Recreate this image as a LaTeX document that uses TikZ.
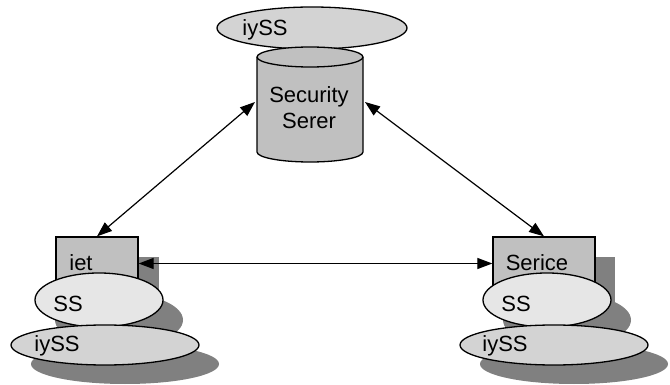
\documentclass[tikz,border=0pt]{standalone}
\usepackage{fontspec}
\setmainfont{Liberation Sans}
\usetikzlibrary{arrows.meta}
\definecolor{boxgray}{HTML}{C0C0C0}
\definecolor{ssgray}{HTML}{E6E6E6}
\definecolor{iygray}{HTML}{D3D3D3}
\definecolor{shad}{HTML}{808080}
\begin{document}
\begin{tikzpicture}[x=1pt,y=-1pt,
  lbl/.style={inner sep=0pt,font=\fontsize{22}{25}\selectfont},
  outl/.style={draw=black,line width=1.3pt},
  conn/.style={line width=1.2pt,{Triangle[length=15pt,width=11pt]}-{Triangle[length=15pt,width=11pt]}}]
\useasboundingbox (0,0) rectangle (670,385);
% ---- top: security server
\path[fill=iygray,outl] (312,28) ellipse [x radius=95, y radius=21];
\node[lbl] (tiy) at (265,30) {iySS};
\path[fill=boxgray,outl] (257,57) -- (257,152) arc[start angle=180,end angle=0,x radius=53,y radius=10] -- (363,57) arc[start angle=0,end angle=-180,x radius=53,y radius=10] -- cycle;
\draw[outl] (257,57) arc[start angle=180,end angle=0,x radius=53,y radius=10];
\node[inner sep=0pt,minimum width=106pt,minimum height=95pt] (srv) at (310,105) {};
\node[lbl] (sec) at (309,97) {Security};
\node[lbl] (ser) at (309,121) {Serer};
% ---- left group
\fill[shad] (77,257) rectangle (159,310);
\node[fill=boxgray,outl,minimum width=82pt,minimum height=53pt,inner sep=0pt] (cbox) at (97,263.5) {};
\node[lbl] (ciet) at (81,263) {iet};
\fill[shad] (119,320) ellipse [x radius=64, y radius=27];
\path[fill=ssgray,outl] (99,300) ellipse [x radius=64, y radius=27];
\node[lbl] (css) at (68,304) {SS};
\fill[shad] (125,364) ellipse [x radius=94, y radius=20];
\path[fill=iygray,outl] (105,345) ellipse [x radius=94, y radius=20];
\node[lbl] (ciy) at (57,346) {iySS};
% ---- right group
\fill[shad] (513,257) rectangle (615,310);
\node[fill=boxgray,outl,minimum width=102pt,minimum height=53pt,inner sep=0pt] (sbox) at (544,263.5) {};
\node[lbl] (sser) at (537,263) {Serice};
\fill[shad] (567,320) ellipse [x radius=64, y radius=27];
\path[fill=ssgray,outl] (547,300) ellipse [x radius=64, y radius=27];
\node[lbl] (sss) at (516,304) {SS};
\fill[shad] (574,364) ellipse [x radius=94, y radius=20];
\path[fill=iygray,outl] (554,345) ellipse [x radius=94, y radius=20];
\node[lbl] (siy) at (505,346) {iySS};
% ---- connectors
\coordinate (srvL) at (255,102);
\coordinate (srvR) at (365,102);
\draw[conn] (srvL) -- (cbox.north);
\draw[conn] (srvR) -- (sbox.north);
\draw[conn] (cbox.east) -- (sbox.west);
\end{tikzpicture}
\end{document}
